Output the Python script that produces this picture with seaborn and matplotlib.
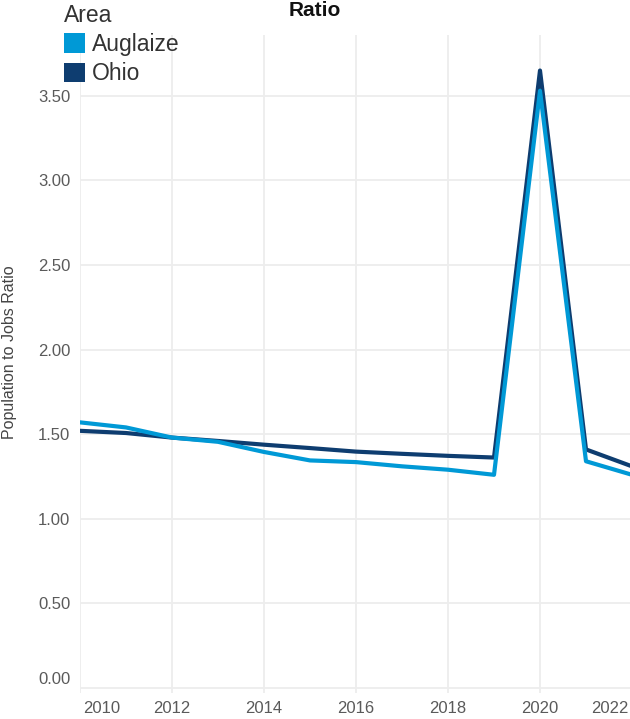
import numpy as np
import pandas as pd
import seaborn as sns
import matplotlib.pyplot as plt
import matplotlib.transforms as mtransforms
from matplotlib.patches import Patch

years = [2010, 2011, 2012, 2013, 2014, 2015, 2016, 2017, 2018, 2019, 2020, 2021, 2022]
auglaize = [1.57, 1.54, 1.48, 1.455, 1.395, 1.345, 1.335, 1.31, 1.29, 1.26, 3.53, 1.34, 1.26]
ohio = [1.52, 1.507, 1.48, 1.46, 1.438, 1.418, 1.397, 1.384, 1.372, 1.362, 3.65, 1.41, 1.31]
areas = ['Auglaize', 'Ohio']
colors = ['#0099D6', '#0E3D70']

df = pd.DataFrame({
    'Year': years * 2,
    'Ratio': auglaize + ohio,
    'Area': ['Auglaize'] * len(years) + ['Ohio'] * len(years),
})

sns.set_theme(style='whitegrid')
plt.rcParams['font.family'] = ['Liberation Sans', 'DejaVu Sans']

fig = plt.figure(figsize=(6.3, 7.19), dpi=100)
ax = fig.add_axes([80 / 630, 26 / 719, 552 / 630, 658 / 719])

sns.lineplot(data=df, x='Year', y='Ratio', hue='Area', hue_order=areas,
             palette=colors, linewidth=3, ax=ax, legend=False)
# light series drawn over the dark one
ax.lines[0].set_zorder(4)
ax.lines[1].set_zorder(3)

ax.set_xlim(2010, 2022)
ax.set_ylim(-0.03, 3.86)
ax.set_xticks([2010, 2012, 2014, 2016, 2018, 2020, 2022])
ax.set_yticks(np.arange(0, 3.51, 0.5))
ax.set_yticklabels(['%.2f' % v for v in np.arange(0, 3.51, 0.5)])

for s in ax.spines.values():
    s.set_visible(False)
ax.grid(True, color='#EDEDED', linewidth=1.3)
ax.tick_params(axis='y', length=5, color='#EDEDED', width=1.3, pad=2,
               labelsize=12, labelcolor='#5A5A5A')
ax.tick_params(axis='x', length=0, pad=6, labelsize=12, labelcolor='#5A5A5A')

xl = ax.get_xticklabels()
xl[0].set_horizontalalignment('left')
xl[0].set_transform(xl[0].get_transform() + mtransforms.ScaledTranslation(3 / 100, 0, fig.dpi_scale_trans))
xl[-1].set_horizontalalignment('right')
xl[-1].set_transform(xl[-1].get_transform() + mtransforms.ScaledTranslation(-4 / 100, 0, fig.dpi_scale_trans))
yl = ax.get_yticklabels()
yl[0].set_transform(yl[0].get_transform() + mtransforms.ScaledTranslation(0, 10 / 100, fig.dpi_scale_trans))

ax.set_xlabel('')
ax.set_ylabel('Population to Jobs Ratio', fontsize=11.5, color='#444444')
ax.yaxis.set_label_coords(-0.114, 0.518)

fig.text(0.5, 1 - 10 / 719, 'Ratio', ha='center', va='center',
         fontsize=15, fontweight='bold', color='#111111')

handles = [Patch(facecolor=c, edgecolor='none') for c in colors]
leg = fig.legend(handles, areas, title='Area', loc='upper left',
                 bbox_to_anchor=(59 / 630, 1 + 1 / 719), frameon=False,
                 fontsize=16.5, title_fontsize=16.5, alignment='left',
                 handlelength=0.95, handleheight=0.95, handletextpad=0.3,
                 labelspacing=0.28, borderaxespad=0, borderpad=0.2)
for t in leg.get_texts():
    t.set_color('#333333')
leg.get_title().set_color('#333333')

fig.savefig('out.png', dpi=100)
